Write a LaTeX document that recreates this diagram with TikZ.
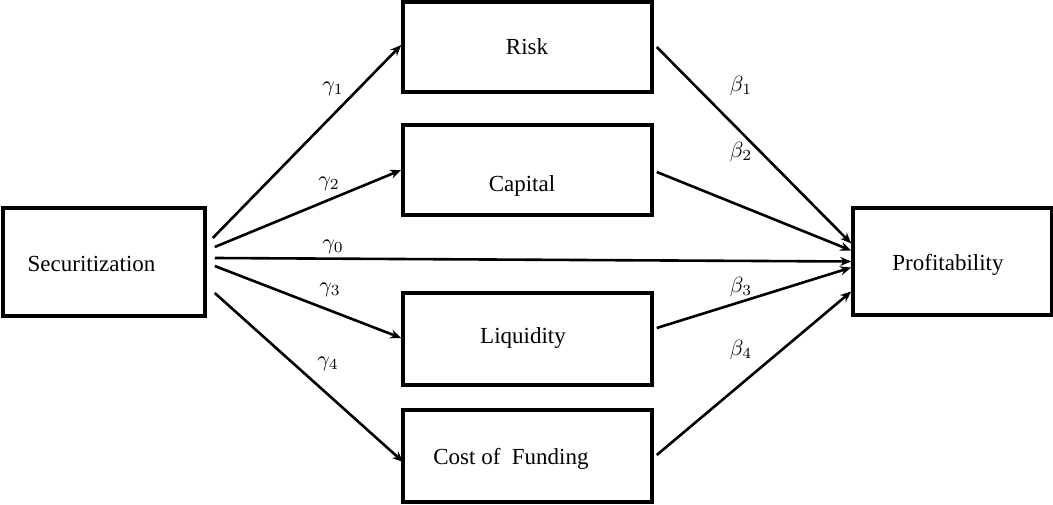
\documentclass[tikz,border=0pt]{standalone}
\usepackage{fontspec}
\usepackage{graphicx}
\setmainfont{Liberation Serif}
\usetikzlibrary{arrows.meta}
\begin{document}
\begin{tikzpicture}[x=1pt,y=-1pt,
  box/.style={draw,line width=3.5pt,rectangle,inner sep=0pt},
  txt/.style={font=\fontsize{23}{26}\selectfont,inner sep=0pt,anchor=base},
  arr/.style={line width=2.6pt,-{Stealth[length=11pt,width=9pt]}},
  lab/.style={inner sep=0pt}]
\useasboundingbox (0,0) rectangle (1053,505);
\node[box,minimum width=202pt,minimum height=108pt] (sec) at (104,262) {};
\node[box,minimum width=249pt,minimum height=90pt] (risk) at (527.5,47) {};
\node[box,minimum width=249pt,minimum height=90pt] (cap) at (527.5,170) {};
\node[box,minimum width=249pt,minimum height=92pt] (liq) at (527.5,339) {};
\node[box,minimum width=249pt,minimum height=92pt] (cost) at (527.5,456) {};
\node[box,minimum width=199pt,minimum height=107pt] (prof) at (952.5,261.5) {};
% texts
\node[txt] (secT) at (91.5,272) {Securitization};
\node[txt] (riskT) at (527,55) {Risk};
\node[txt] (capT) at (522,192) {Capital};
\node[txt] (liqT) at (523,343) {Liquidity};
\node[txt] (costT) at (511,464) {Cost of\ \ Funding};
\node[txt] (profT) at (948,271) {Profitability};
% arrows from Securitization
\draw[arr] ([xshift=6pt,yshift=24pt]sec.east) -- ([yshift=2pt]risk.west);
\draw[arr] ([xshift=8pt,yshift=15pt]sec.east) -- (cap.west);
\draw[arr] ([xshift=8pt,yshift=4pt]sec.east) -- (prof.west);
\draw[arr] ([xshift=8pt,yshift=-4pt]sec.east) -- ([yshift=1pt]liq.west);
\draw[arr] ([xshift=8pt,yshift=-31pt]sec.east) -- ([xshift=2pt,yshift=-6pt]cost.west);
% arrows to Profitability
\draw[arr] ([xshift=3pt]risk.east) -- ([yshift=18pt]prof.west);
\draw[arr] ([xshift=3pt,yshift=-2pt]cap.east) -- ([yshift=11pt]prof.west);
\draw[arr] ([xshift=3pt,yshift=11pt]liq.east) -- ([yshift=-6pt]prof.west);
\draw[arr] ([xshift=3pt,yshift=1pt]cost.east) -- ([yshift=-30pt]prof.west);
% labels
\node[lab] (g1) at (333,89) {\scalebox{2.2}{$\gamma_1$}};
\node[lab] (g2) at (329,184) {\scalebox{2.2}{$\gamma_2$}};
\node[lab] (g0) at (333,247) {\scalebox{2.2}{$\gamma_0$}};
\node[lab] (g3) at (330,290) {\scalebox{2.2}{$\gamma_3$}};
\node[lab] (g4) at (328,364) {\scalebox{2.2}{$\gamma_4$}};
\node[lab] (b1) at (741,86) {\scalebox{2.2}{$\beta_1$}};
\node[lab] (b2) at (741,152) {\scalebox{2.2}{$\beta_2$}};
\node[lab] (b3) at (741,287) {\scalebox{2.2}{$\beta_3$}};
\node[lab] (b4) at (741,350) {\scalebox{2.2}{$\beta_4$}};
\end{tikzpicture}
\end{document}
